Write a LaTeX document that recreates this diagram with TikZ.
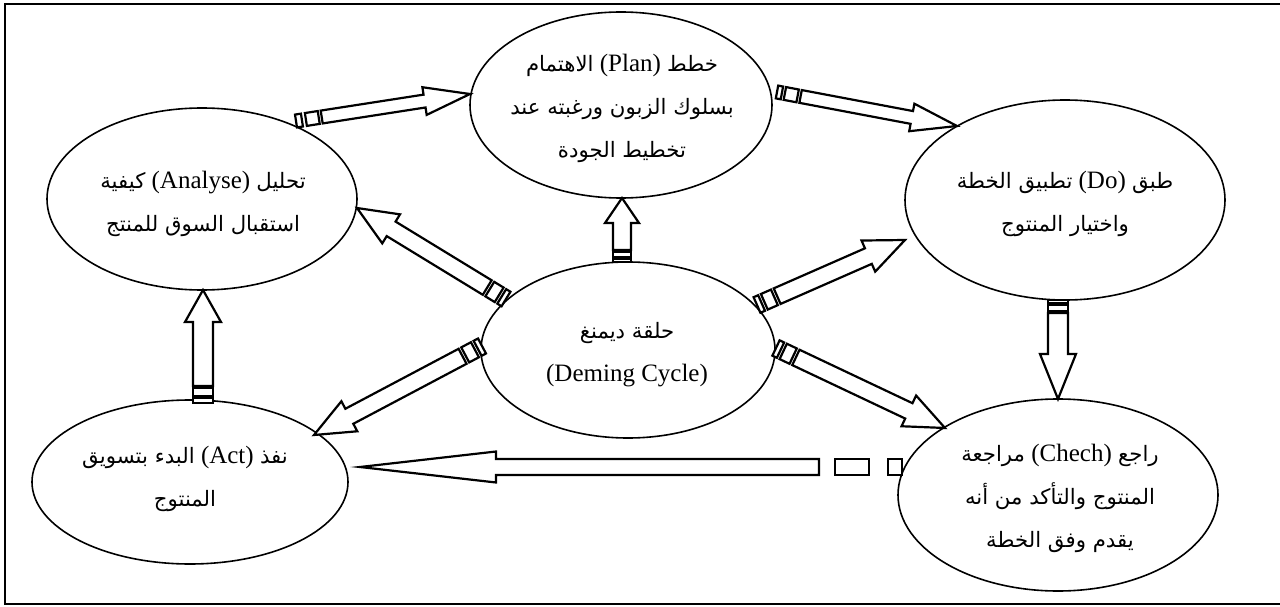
\documentclass[tikz,border=0pt]{standalone}
\usepackage{fontspec}
\setmainfont{Liberation Serif}
\newfontfamily\arabicfont[Script=Arabic,Scale=0.85]{DejaVu Sans}
\TeXXeTstate=1
\usetikzlibrary{calc,shapes.geometric}

% Arabic word(s) and left-to-right insert inside a right-to-left line
\newcommand\ar[1]{{\arabicfont #1}}
\newcommand\lt[1]{\beginL #1\endL}

% Outlined block arrow with two stripes at its tail.
% #1 tail, #2 tip, #3 shaft half-width, #4 head half-width, #5 head length,
% #6 first stripe, #7 gap, #8 second stripe, #9 gap before the body
\newcommand\stripedarrow[9]{%
  \path let \p1=($(#2)-(#1)$) in \pgfextra{%
    \pgfmathsetmacro\tmpL{veclen(\x1,\y1)}%
    \pgfmathsetmacro\tmpA{atan2(\y1,\x1)}%
    \global\let\arrL\tmpL\global\let\arrA\tmpA};
  \begin{scope}[shift={(#1)}, rotate=\arrA, x=1pt, y=1pt]
    \pgfmathsetmacro\sa{#6}%
    \pgfmathsetmacro\sb{#6+#7}%
    \pgfmathsetmacro\sc{#6+#7+#8}%
    \pgfmathsetmacro\sd{#6+#7+#8+#9}%
    \pgfmathsetmacro\hb{\arrL-#5}%
    \draw[arrowline] (0,-#3) rectangle (\sa,#3);
    \draw[arrowline] (\sb,-#3) rectangle (\sc,#3);
    \draw[arrowline] (\sd,-#3) -- (\hb,-#3) -- (\hb,-#4) -- (\arrL,0)
      -- (\hb,#4) -- (\hb,#3) -- (\sd,#3) -- cycle;
  \end{scope}}

\begin{document}
\begin{tikzpicture}[x=1pt,y=-1pt,
  oval/.style={draw, line width=1.6pt, ellipse, inner sep=0pt},
  arrowline/.style={draw, fill=white, line width=2.2pt, line join=miter},
  txt/.style={align=center, inner sep=0pt, font=\fontsize{25}{43}\selectfont}]
\useasboundingbox (0,0) rectangle (1280,607);
% open frame
\draw[line width=2.2pt] (1290,4) -- (5,4) -- (5,604) -- (1290,604);

% stages of the cycle
\node[oval, minimum width=302pt, minimum height=186pt] (plan)    at (621,105) {};
\node[oval, minimum width=310pt, minimum height=182pt] (analyse) at (202,199) {};
\node[oval, minimum width=320pt, minimum height=200pt] (do)      at (1065,200) {};
\node[oval, minimum width=294pt, minimum height=176pt] (deming)  at (628,350) {};
\node[oval, minimum width=316pt, minimum height=164pt] (act)     at (190,482) {};
\node[oval, minimum width=320pt, minimum height=192pt] (check)   at (1058,495) {};

% texts
\node[txt] (plantxt) at (622,108) {%
  \beginR\ar{خطط} \lt{(Plan)} \ar{الاهتمام}\endR\\
  \beginR\ar{بسلوك الزبون ورغبته عند}\endR\\
  \beginR\ar{تخطيط الجودة}\endR};
\node[txt] (analysetxt) at (203,204) {%
  \beginR\ar{تحليل} \lt{(Analyse)} \ar{كيفية}\endR\\
  \beginR\ar{استقبال السوق للمنتج}\endR};
\node[txt] (dotxt) at (1065,204) {%
  \beginR\ar{طبق} \lt{(Do)} \ar{تطبيق الخطة}\endR\\
  \beginR\ar{واختيار المنتوج}\endR};
\node[txt] (demingtxt) at (627,355) {%
  \beginR\ar{حلقة ديمنغ}\endR\\
  (Deming Cycle)};
\node[txt] (acttxt) at (185,479) {%
  \beginR\ar{نفذ} \lt{(Act)} \ar{البدء بتسويق}\endR\\
  \beginR\ar{المنتوج}\endR};
\node[txt] (checktxt) at (1060,498) {%
  \beginR\ar{راجع} \lt{(Chech)} \ar{مراجعة}\endR\\
  \beginR\ar{المنتوج والتأكد من أنه}\endR\\
  \beginR\ar{يقدم وفق الخطة}\endR};

% arrow ends on the ellipse borders
\coordinate (a1t) at (296,121);  \coordinate (a1h) at (470,94);
\coordinate (a2t) at (777,92);   \coordinate (a2h) at (957,126);
\coordinate (a3t) at (622,262);  \coordinate (a3h) at (622,198);
\coordinate (a4t) at (506,299);  \coordinate (a4h) at (357,208);
\coordinate (a5t) at (757,305);  \coordinate (a5h) at (905,240);
\coordinate (a6t) at (482,346);  \coordinate (a6h) at (314,435);
\coordinate (a7t) at (776,348);  \coordinate (a7h) at (945,428);
\coordinate (a8t) at (1058,300); \coordinate (a8h) at (1058,399);
\coordinate (a9t) at (203,403);  \coordinate (a9h) at (203,290);
\coordinate (a10t) at (902,467); \coordinate (a10h) at (360,467);

% the cycle
\stripedarrow{a1t}{a1h}{6.5}{14}{46}{6}{4}{13}{3}
\stripedarrow{a2t}{a2h}{6.5}{14}{46}{5}{3}{13}{3}
\stripedarrow{a8t}{a8h}{10}{18}{45}{3}{2}{6}{2}
\stripedarrow{a10t}{a10h}{8}{15.5}{136}{14}{19}{34}{16}
\stripedarrow{a9t}{a9h}{10}{18}{32}{5}{2}{8}{2}
% from the centre outwards
\stripedarrow{a3t}{a3h}{9}{17}{25}{3}{2}{5}{2}
\stripedarrow{a4t}{a4h}{8.5}{17}{40}{5}{3}{11}{3}
\stripedarrow{a5t}{a5h}{8.5}{17}{40}{5}{3}{11}{3}
\stripedarrow{a6t}{a6h}{8.5}{17}{40}{5}{3}{11}{3}
\stripedarrow{a7t}{a7h}{8.5}{17}{40}{5}{3}{11}{3}
\end{tikzpicture}
\end{document}
